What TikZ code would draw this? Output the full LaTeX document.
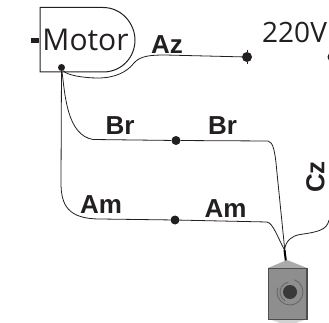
\documentclass[tikz,border=0pt]{standalone}
\usepackage{fontspec}
\setmainfont{Liberation Sans}
\newfontfamily\thinfont{Open Sans}
\definecolor{inkdark}{HTML}{231F20}
\definecolor{boxgrey}{HTML}{8E8E8E}
\tikzset{
  wire/.style={line width=0.8pt, draw=inkdark},
  joint/.style={circle, fill=inkdark, inner sep=0pt, minimum size=9pt},
  label/.style={font=\bfseries\fontsize{26}{26}\selectfont, text=inkdark, inner sep=0pt}
}
\begin{document}
\begin{tikzpicture}[x=1pt,y=-1pt]
\useasboundingbox (0,0) rectangle (329,323);
\clip (0,0) rectangle (329,323);

% Motor outline
\draw[line width=1pt, draw=inkdark] (40,7.5) -- (103,7.5) .. controls (122,7.5) and (135,24) .. (135,40) .. controls (135,57) and (122,72) .. (103,72) -- (40,72) -- cycle;
\node[font=\thinfont\fontsize{30}{30}\selectfont, text=inkdark, inner sep=0pt] (motor) at (85.5,40) {Motor};
\draw[line width=5pt, draw=inkdark] (31,40.5) -- (39,40.5);

% Joints
\node[joint, minimum size=7pt] (hub) at (61.5,67.5) {};
\node[joint, minimum size=10pt] (azend) at (247,57) {};
\node[joint] (line220) at (332,57) {};
\node[joint] (brmid) at (176,140.5) {};
\node[joint] (ammid) at (175,220) {};
\coordinate (plug) at (286,262);
\coordinate (merge) at (284.5,250);

% Wires
\draw[wire] (hub) .. controls (66,75) and (83,78) .. (98,78) .. controls (115,78) and (127,72) .. (134,63) .. controls (140,56) and (150,55) .. (165,55) -- (azend);
\draw[wire] (247,50) -- (azend) -- (247,64);
\draw[wire] (hub) .. controls (65,95) and (67,135) .. (93,139.5) -- (brmid) -- (268,141) .. controls (273,142) and (275,150) .. (277,173) -- (plug);
\draw[wire] (hub) -- (61,183) .. controls (61,205) and (68,219) .. (100,219) -- (ammid) -- (267,222) .. controls (273,223) and (278,238) .. (merge);
\draw[wire] (merge) .. controls (286,240) and (292,236) .. (300,234.5) .. controls (318,232) and (327,230) .. (329,220);
\draw[line width=2pt, draw=black] (merge) -- (plug);

% Labels
\node[font=\thinfont\fontsize{28}{28}\selectfont, text=inkdark, inner sep=0pt, anchor=west] (volt) at (262,32) {220V};
\node[label] (az) at (167,44.5) {Az};
\node[label] (br1) at (120,125.5) {Br};
\node[label] (br2) at (222.5,126) {Br};
\node[label] (am1) at (101,204.5) {Am};
\node[label] (am2) at (225.5,209) {Am};
\node[label, rotate=90] (cz) at (315.5,177) {Cz};

% Switch box
\fill[boxgrey!75] (268,268) -- (287,260) -- (307,268) -- cycle;
\fill[boxgrey!40] (272,320) -- (304,320) -- (296,323) -- (280,323) -- cycle;
\draw[line width=1.2pt, draw=boxgrey!55!black, fill=boxgrey] (268.5,268.5) rectangle (307,319.5);
\draw[boxgrey!70!black, line width=0.8pt] (290,292) +(-70:13) arc (-70:200:13);
\draw[boxgrey!70!black, line width=0.8pt] (290,292) +(120:10) arc (120:260:10);
\fill[boxgrey!40!black] (290,292) circle (7pt);
\end{tikzpicture}
\end{document}
